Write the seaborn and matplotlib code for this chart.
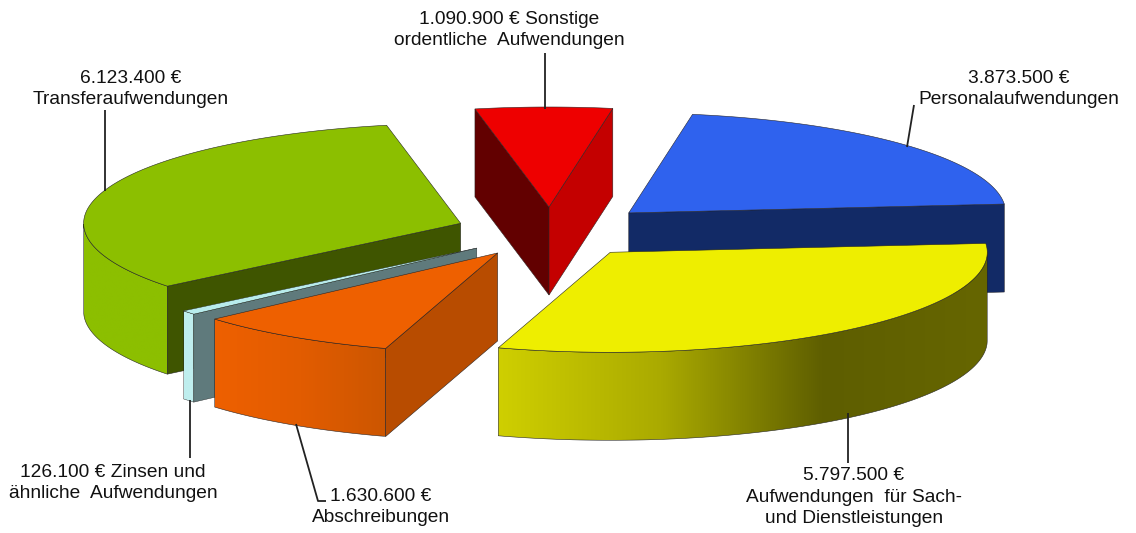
import numpy as np
import matplotlib
matplotlib.use("Agg")
import matplotlib.pyplot as plt
import seaborn as sns
from matplotlib.colors import LinearSegmentedColormap

# slices clockwise, starting with the red one at the top
names = ['Sonstige', 'Personal', 'Sach', 'Abschreibungen', 'Zinsen', 'Transfer']
values = [1090900, 3873500, 5797500, 1630600, 126100, 6123400]
explode = [0.25, 0.285, 0.26, 0.25, 0.25, 0.25]

top_colors = ['#ee0000', '#2f62ee', '#eeee00', '#ee6000', '#b8ecec', '#8cbf00']
# shading of the outer wall, left to right
wall_colors = [
    ['#c00000'], ['#122a66'],
    ['#cfcf00', '#aaaa00', '#5e5e00', '#666600'],
    ['#ee6000', '#e25c00', '#cc5600'],
    ['#bfeeee'], ['#8cbf00'],
]
# inner walls that face the viewer: (edge, colour), edge 0 = start, 1 = end
inner_walls = [
    [(0, '#620000'), (1, '#c40000')],
    [(1, '#122a66')],
    [],
    [(0, '#b84c00')],
    [(0, '#5f7a7c')],
    [(0, '#3f5500')],
]
edge_widths = [0.4, 0.4, 0.4, 0.4, 0.3, 0.4]

labels = [
    '1.090.900 € Sonstige\nordentliche  Aufwendungen',
    '3.873.500 €\nPersonalaufwendungen',
    '5.797.500 €\nAufwendungen  für Sach-\nund Dienstleistungen',
    '1.630.600 €\nAbschreibungen',
    '126.100 € Zinsen und\nähnliche  Aufwendungen',
    '6.123.400 €\nTransferaufwendungen',
]
label_pos = [(509, 30), (1019, 89), (854, 497), (381, 507), (113, 483), (131, 89)]
leaders = [
    [(545, 53), (545, 109)],
    [(914, 105), (907, 147)],
    [(848, 413), (848, 463)],
    [(296, 424), (318, 501), (326, 501)],
    [(190, 400), (190, 458)],
    [(105, 110), (105, 191)],
]

cx, cy = 549, 232
rx, ry = 377, 100
depth = 88
tilt = 0.4  # the far side of the pie sits a little to the left

sns.set_theme(style='white')
plt.rcParams['font.family'] = ['Liberation Sans', 'DejaVu Sans']

fig = plt.figure(figsize=(11.36, 5.33), dpi=100)
ax = fig.add_axes([0, 0, 1, 1])
sns.despine(ax=ax, left=True, bottom=True)
ax.set_xticks([])
ax.set_yticks([])

shares = np.array(values) / sum(values) * 360
starts = -shares[0] / 2 + np.concatenate([[0], np.cumsum(shares)[:-1]])


def rim(ox, oy, deg):
    a = np.radians(deg)
    a = a - np.radians(tilt) * (1 + np.cos(a))
    return ox + rx * np.sin(a), oy - ry * np.cos(a)


z = 1
for i in [0, 1, 2, 5, 4, 3]:
    a0, a1 = starts[i], starts[i] + shares[i]
    mid = np.radians((a0 + a1) / 2)
    ox = cx + explode[i] * rx * np.sin(mid)
    oy = cy - explode[i] * ry * np.cos(mid)
    edge = sns.dark_palette(top_colors[i], 3)[0]
    lw = edge_widths[i]

    # outer wall, only the part on the near side of the ellipse
    lo, hi = max(a0, 90), min(a1, 270)
    if lo < hi:
        deg = np.linspace(lo, hi, 120)
        x, y = rim(ox, oy, deg)
        cols = wall_colors[i] * 2 if len(wall_colors[i]) == 1 else wall_colors[i]
        cmap = LinearSegmentedColormap.from_list(names[i], cols)
        wall = ax.fill(np.r_[x, x[::-1]], np.r_[y, y[::-1] + depth],
                       facecolor='none', edgecolor=edge, lw=lw, zorder=z + 1)[0]
        im = ax.imshow(np.linspace(0, 1, 256)[None, :], cmap=cmap, aspect='auto',
                       extent=[x.min(), x.max(), y.max() + depth, y.min()],
                       vmin=0, vmax=1, zorder=z, interpolation='bilinear')
        im.set_clip_path(wall)

    # straight walls at the cut
    for which, col in inner_walls[i]:
        ex, ey = rim(ox, oy, a1 if which else a0)
        ax.fill([ox, ex, ex, ox], [oy, ey, ey + depth, oy + depth],
                facecolor=col, edgecolor=edge, lw=lw, zorder=z + 2)

    # top face
    deg = np.linspace(a0, a1, 120)
    x, y = rim(ox, oy, deg)
    ax.fill(np.r_[ox, x], np.r_[oy, y], facecolor=top_colors[i],
            edgecolor=edge, lw=lw, zorder=z + 3)
    z += 4

for pts in leaders:
    ax.plot(*zip(*pts), color='#222222', lw=1.3, zorder=z, solid_capstyle='butt')

for text, (tx, ty) in zip(labels, label_pos):
    ax.text(tx, ty, text, ha='center', va='center', fontsize=13.8,
            color='#111111', linespacing=1.32, zorder=z + 1)

ax.set_xlim(0, 1136)
ax.set_ylim(533, 0)

fig.savefig('out.png', dpi=100)
